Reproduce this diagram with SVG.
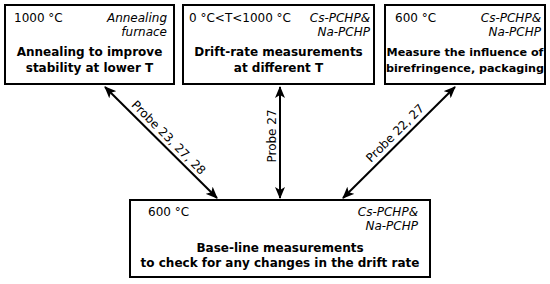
<svg xmlns="http://www.w3.org/2000/svg" width="550" height="284" viewBox="0 0 550 284">
<defs>
<marker id="ah" viewBox="0 0 12 10" refX="11" refY="5" markerWidth="12" markerHeight="10" markerUnits="userSpaceOnUse" orient="auto-start-reverse">
<path d="M0,0 L12,5 L0,10 L3,5 Z" fill="#000"/>
</marker>
</defs>
<style>
.box{fill:#fff;stroke:#000;stroke-width:2}
text{font-family:"DejaVu Sans",Verdana,sans-serif;font-size:12px;fill:#000}
.it{font-style:italic}
.b{font-weight:bold}
.r{text-anchor:end}
.c{text-anchor:middle}
.sm{font-size:11.2px}
.con{stroke:#000;stroke-width:2;fill:none;marker-start:url(#ah);marker-end:url(#ah)}
</style>
<rect width="550" height="284" fill="#fff"/>
<g id="n1">
<rect class="box" x="5" y="5" width="169" height="79"/>
<text x="14" y="22">1000 °C</text>
<text class="it r" x="167" y="22">Annealing</text>
<text class="it r" x="167" y="36">furnace</text>
<text class="b c" x="89.5" y="56">Annealing to improve</text>
<text class="b c" x="89.5" y="72">stability at lower T</text>
</g>
<g id="n2">
<rect class="box" x="183" y="5" width="191" height="79"/>
<text x="189" y="22">0 °C&lt;T&lt;1000 °C</text>
<text class="it r" x="370" y="22">Cs-PCHP&amp;</text>
<text class="it r" x="370" y="36">Na-PCHP</text>
<text class="b c" x="278.5" y="56">Drift-rate measurements</text>
<text class="b c" x="278.5" y="72">at different T</text>
</g>
<g id="n3">
<rect class="box" x="385" y="5" width="160" height="79"/>
<text x="395" y="22">600 °C</text>
<text class="it r" x="541" y="22">Cs-PCHP&amp;</text>
<text class="it r" x="541" y="36">Na-PCHP</text>
<text class="b c sm" x="465" y="56">Measure the influence of</text>
<text class="b c sm" x="465" y="72">birefringence, packaging</text>
</g>
<g id="n4">
<rect class="box" x="130" y="200" width="300" height="77"/>
<text x="148" y="216">600 °C</text>
<text class="it r" x="418" y="216">Cs-PCHP&amp;</text>
<text class="it r" x="418" y="230">Na-PCHP</text>
<text class="b c" x="280" y="252">Base-line measurements</text>
<text class="b c" x="280" y="267">to check for any changes in the drift rate</text>
</g>
<g id="connectors">
<line class="con" x1="105" y1="87" x2="217" y2="198"/>
<line class="con" x1="280" y1="87" x2="280" y2="198"/>
<line class="con" x1="455" y1="87" x2="343" y2="198"/>
<text class="c" transform="translate(165.7,140.5) rotate(45)">Probe 23, 27, 28</text>
<text class="c" transform="translate(276,136) rotate(-90)">Probe 27</text>
<text class="c" transform="translate(398,136) rotate(-45)">Probe 22, 27</text>
</g>
</svg>
